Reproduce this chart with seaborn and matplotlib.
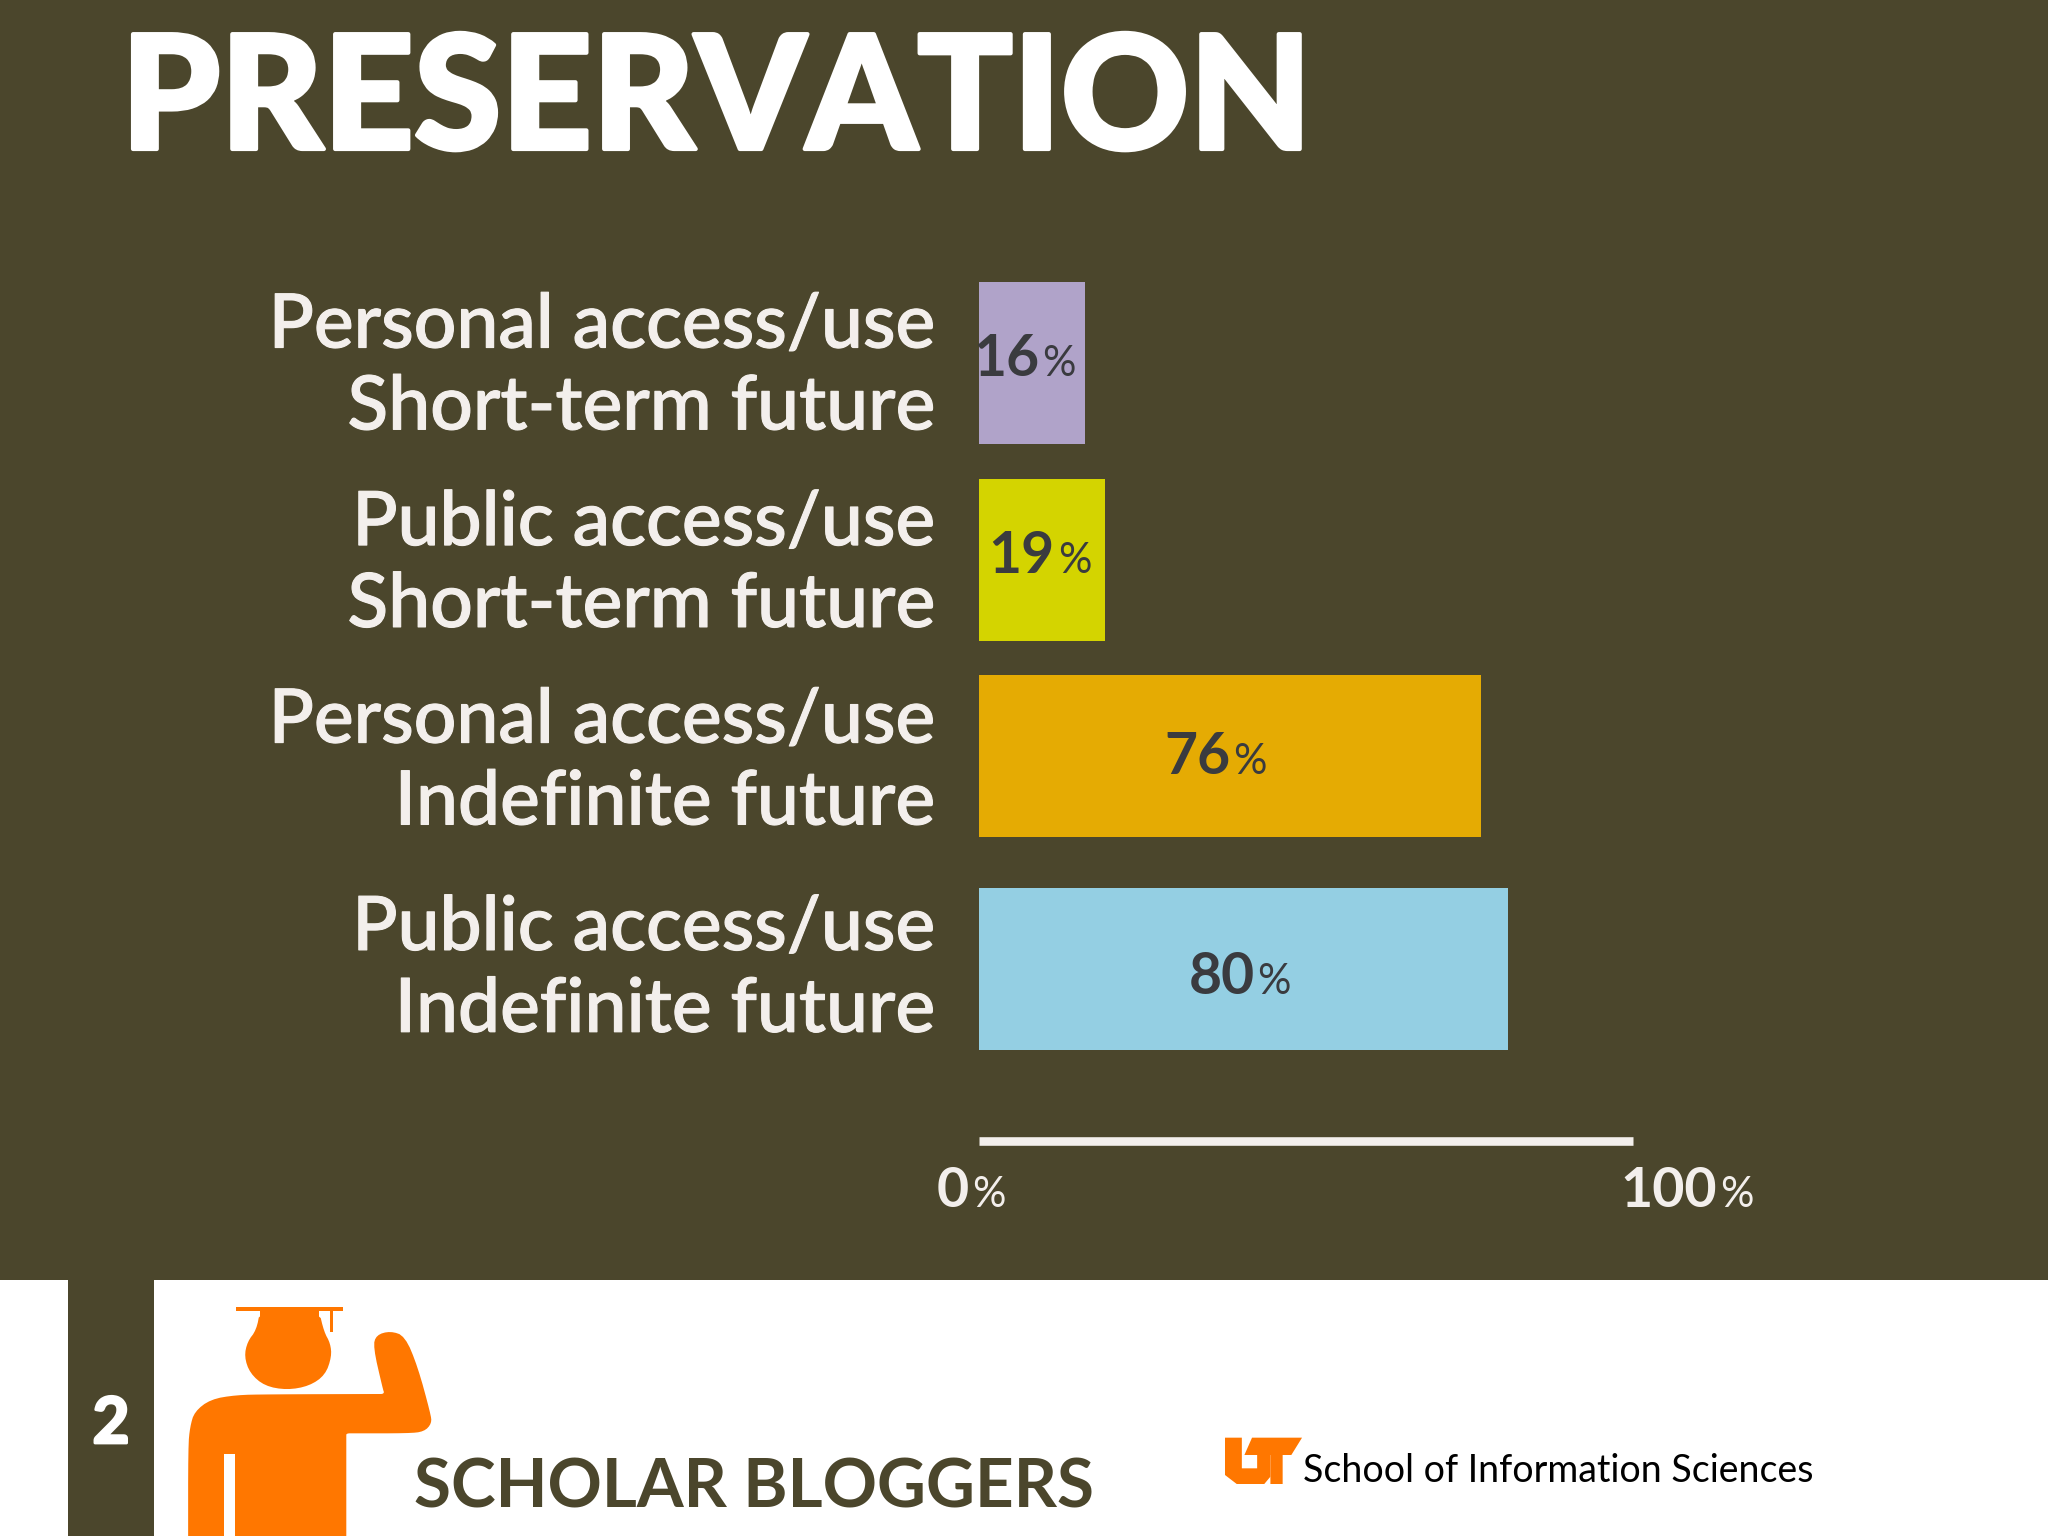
"""plot.py - slide with the preservation bar chart (scholar bloggers survey)."""

import matplotlib.patheffects as pe
import matplotlib.pyplot as plt
from matplotlib.patches import Polygon, Rectangle
import pandas as pd
import seaborn as sns

CATEGORIES = [
    "Personal access/use\nShort-term future",
    "Public access/use\nShort-term future",
    "Personal access/use\nIndefinite future",
    "Public access/use\nIndefinite future",
]
VALUES = [16, 19, 76, 80]
BAR_COLORS = ["#b0a3c9", "#d4d400", "#e5ab03", "#94cfe3"]
AXIS_TICKS = [0, 100]
TITLE = "PRESERVATION"
FOOTER_LEFT = "SCHOLAR BLOGGERS"
FOOTER_RIGHT = "School of Information Sciences"
SLIDE_NUMBER = "2"

# layout: the rows are not evenly spaced on the slide
ROW_POS = [0, 1, 2, 3.08]
LABEL_POS = [-0.047, 0.958, 1.963, 3.018]
VALUE_NUDGE_PX = [8, 14, 1, 12]
VALUE_DROP_PX = [-13, -13, -18, -25]
TICK_NUDGE_PX = [-9, 78]

BG = "#4b462c"
LIGHT = "#f3efec"
DARK_TEXT = "#3a3b3f"
ORANGE = "#ff7700"
W, H = 2048, 1536


def heavier(color, width):
    return [pe.withStroke(linewidth=width, foreground=color)]


def smooth(pts, rounds=2):
    """Corner cutting, so the traced outlines do not look faceted."""
    for _ in range(rounds):
        out = []
        for (x0, y0), (x1, y1) in zip(pts, pts[1:] + pts[:1]):
            out.append((0.75 * x0 + 0.25 * x1, 0.75 * y0 + 0.25 * y1))
            out.append((0.25 * x0 + 0.75 * x1, 0.25 * y0 + 0.75 * y1))
        pts = out
    return pts


def pct_label(ax, x, y, number, dx, dy, color, num_size, pct_size):
    """Number and its thin little percent sign, split around one anchor."""
    ax.annotate(number, (x, y), xytext=(dx - 1, dy), textcoords="offset pixels",
                ha="right", va="baseline", color=color, fontsize=num_size,
                fontweight="bold", annotation_clip=False)
    ax.annotate("%", (x, y), xytext=(dx + 2, dy), textcoords="offset pixels",
                ha="left", va="baseline", color=color, fontsize=pct_size,
                fontweight="normal", annotation_clip=False)


def draw_slide(fig):
    """Footer band, title and the icons, in reference pixel coordinates."""
    bg = fig.add_axes([0, 0, 1, 1], zorder=0)
    bg.set_xlim(0, W)
    bg.set_ylim(H, 0)
    bg.axis("off")

    bg.add_patch(Rectangle((0, 1280), W, H - 1280, color="white", lw=0))
    bg.add_patch(Rectangle((68, 1280), 86, H - 1280, color=BG, lw=0))
    bg.text(111, 1443, SLIDE_NUMBER, color="white", fontsize=46, fontweight="bold",
            ha="center", va="baseline", path_effects=heavier("white", 2))

    bg.text(121, 149, TITLE, color="white", fontsize=114, fontweight="black",
            ha="left", va="baseline", path_effects=heavier("white", 3))
    bg.text(414, 1507, FOOTER_LEFT, color=BG, fontsize=48.5, fontweight="bold",
            ha="left", va="baseline")
    bg.text(1303, 1482, FOOTER_RIGHT, color="black", fontsize=27,
            ha="left", va="baseline")

    def person(pts):
        return [(x / 1.568, 1260 + y / 3) for x, y in pts]

    head = [(408, 150), (402, 210), (388, 245), (383, 290), (392, 340), (415, 378),
            (450, 390), (485, 378), (510, 345), (520, 290), (518, 250), (508, 215),
            (500, 150)]
    body = [(295, 900), (295, 850), (295, 560), (298, 500), (305, 455), (330, 418),
            (370, 405), (420, 403), (590, 402), (603, 402), (600, 385), (585, 260),
            (590, 225), (612, 213), (635, 228), (655, 320), (675, 460), (677, 490),
            (665, 515), (640, 520), (555, 520), (543, 520), (543, 530), (543, 850),
            (543, 900)]
    gap = [(352, 582), (368, 582), (368, 828), (352, 828)]
    cap = [(370, 140), (538, 140), (538, 152), (370, 152)]
    tassel = [(518, 152), (522, 152), (522, 215), (518, 215)]
    for pts, col in [(smooth(head), ORANGE), (smooth(body), ORANGE), (gap, "white"),
                     (head[:1] + head[-1:] + [(500, 175), (408, 175)], ORANGE),
                     (cap, ORANGE), (tassel, ORANGE)]:
        bg.add_patch(Polygon(person(pts), closed=True, color=col, lw=0))

    # UT logo
    def logo(pts):
        return [(1100 + x / 1.96, 1260 + y / 3) for x, y in pts]

    letter_u = [(245, 533), (278, 533), (278, 625), (308, 625), (308, 580), (334, 580),
                (334, 650), (322, 672), (268, 672), (245, 645)]
    letter_t = [(298, 533), (396, 533), (375, 585), (358, 585), (358, 672), (334, 672),
                (334, 585), (283, 585)]
    for pts in (letter_u, letter_t):
        bg.add_patch(Polygon(logo(pts), closed=True, color=ORANGE, lw=0))


def draw_chart(fig):
    # x: 661 px per 100 %, y: one row is 196.6 px, row 0 centred at 363 px
    top_px, bottom_px = 265, 1141
    ax = fig.add_axes([979 / W, 1 - bottom_px / H, 661 / W, (bottom_px - top_px) / H],
                      zorder=1)
    ax.patch.set_alpha(0)

    df = pd.DataFrame({"label": CATEGORIES, "value": VALUES, "row": ROW_POS})
    sns.barplot(data=df, x="value", y="row", hue="label", palette=BAR_COLORS,
                hue_order=CATEGORIES, orient="y", native_scale=True, dodge=False,
                width=0.824, saturation=1, linewidth=0, legend=False, ax=ax)

    ax.set_xlim(0, 100)
    ax.set_ylim(3.957, -0.5)
    ax.set_xlabel("")
    ax.set_ylabel("")
    ax.set_xticks([])
    ax.set_yticks(LABEL_POS)
    ax.set_yticklabels(CATEGORIES, color=LIGHT, fontsize=54, fontweight="medium",
                       linespacing=1.23, ha="right")
    for lbl in ax.get_yticklabels():
        lbl.set_path_effects(heavier(LIGHT, 0.8))
    ax.tick_params(axis="y", length=0, pad=31)

    for side in ("top", "right", "left"):
        ax.spines[side].set_visible(False)
    ax.spines["bottom"].set_bounds(0, 98.9)
    ax.spines["bottom"].set_color(LIGHT)
    ax.spines["bottom"].set_linewidth(6.2)
    ax.spines["bottom"].set_capstyle("butt")

    for val, row, nudge, drop in zip(VALUES, ROW_POS, VALUE_NUDGE_PX, VALUE_DROP_PX):
        pct_label(ax, val / 2, row, str(val), nudge, drop, DARK_TEXT, 41, 30)

    for tick, nudge in zip(AXIS_TICKS, TICK_NUDGE_PX):
        pct_label(ax, tick, 3.957, str(tick), nudge, -66, LIGHT, 40, 30)


sns.set_theme(style="white")
plt.rcParams["font.family"] = ["Lato", "DejaVu Sans"]

fig = plt.figure(figsize=(W / 100, H / 100), dpi=100, facecolor=BG)
draw_slide(fig)
draw_chart(fig)
fig.savefig("out.png", dpi=100, facecolor=BG)
